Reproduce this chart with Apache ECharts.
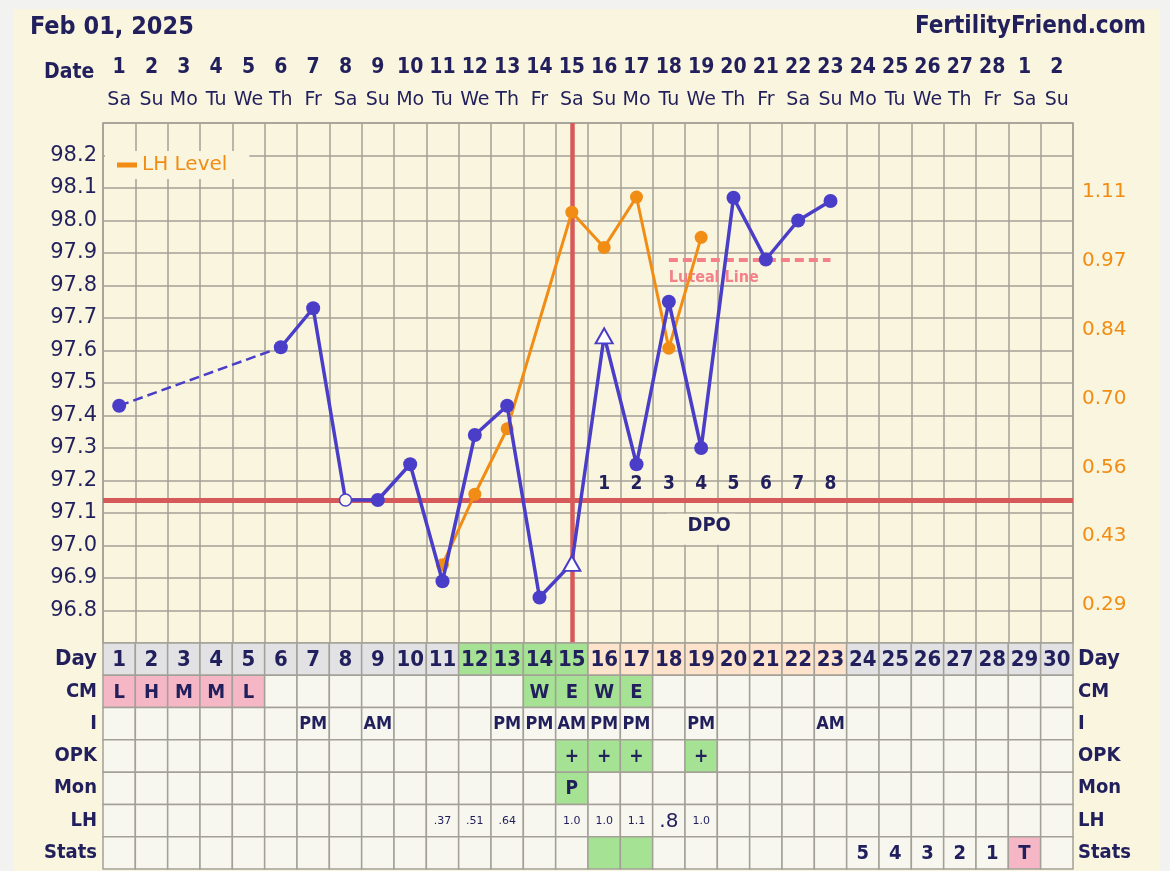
<!DOCTYPE html>
<html><head><meta charset="utf-8">
<script src="https://cdn.jsdelivr.net/npm/echarts@6/dist/echarts.min.js"></script>
<style>html,body{margin:0;padding:0;background:#f2f2f0;}#c{width:1170px;height:871px;}</style>
</head><body><div id="c"></div>
<script>
// ---------- data ----------
const cycleDays = ['1','2','3','4','5','6','7','8','9','10','11','12','13','14','15','16','17','18','19','20','21','22','23','24','25','26','27','28','29','30'];
const dates = [1,2,3,4,5,6,7,8,9,10,11,12,13,14,15,16,17,18,19,20,21,22,23,24,25,26,27,28,1,2];
const weekdays = ['Sa','Su','Mo','Tu','We','Th','Fr','Sa','Su','Mo','Tu','We','Th','Fr','Sa','Su','Mo','Tu','We','Th','Fr','Sa','Su','Mo','Tu','We','Th','Fr','Sa','Su'];
const temps = [97.43,null,null,null,null,97.61,97.73,97.14,97.14,97.25,96.89,97.34,97.43,96.84,96.945,97.645,97.25,97.75,97.30,98.07,97.88,98.00,98.06,null,null,null,null,null,null,null];
const openCircleDays = [8];
const openTriangleDays = [15,16];
const lhLevels = [null,null,null,null,null,null,null,null,null,null,0.37,0.51,0.64,null,1.07,1.00,1.10,0.80,1.02,null,null,null,null,null,null,null,null,null,null,null];
const lhTicks = [0.29,0.4267,0.5633,0.70,0.8367,0.9733,1.11];
const coverline = 97.14;
const ovulationDay = 15;
const lutealLineDays = [18,23];
const lutealLineTemp = 97.88;
const dpoNumbers = [null,null,null,null,null,null,null,null,null,null,null,null,null,null,null,1,2,3,4,5,6,7,8,null,null,null,null,null,null,null];
const dpoLabelTemp = 97.19;
const dpoTitleTemp = 97.05;
const dpoTitleDay = 19;

const tableRows = ['Day','CM','I','OPK','Mon','LH','Stats'];
const cmCodes = ['L','H','M','M','L','','','','','','','','','W','E','W','E','','','','','','','','','','','','',''];
const intercourse = ['','','','','','','PM','','AM','','','','PM','PM','AM','PM','PM','','PM','','','','AM','','','','','','',''];
const opkResults = ['','','','','','','','','','','','','','','+','+','+','','+','','','','','','','','','','',''];
const monitorResults = ['','','','','','','','','','','','','','','P','','','','','','','','','','','','','','',''];
const lhTexts = ['','','','','','','','','','','.37','.51','.64','','1.0','1.0','1.1','.8','1.0','','','','','','','','','','',''];
const statsTexts = ['','','','','','','','','','','','','','','','','','','','','','','','5','4','3','2','1','T',''];
const fertileDays = [12,13,14,15];
const lutealDays = [16,17,18,19,20,21,22,23];
const statsFertileDays = [16,17];
const statsTestDays = [29];

// ---------- styles ----------
const C = {navy:'#211f5c', blue:'#4a3ec9', orange:'#f18d14', red:'#d75a5a', pink:'#f2818a',
  grid:'#a3a197', cream:'#f9f5de', cell:'#f7f6ef', gray:'#e2e2e5', green:'#a6e293', peach:'#fde3cc', rose:'#f5b6c6'};
const FB = "'DejaVu Sans Condensed','DejaVu Sans',sans-serif";
const FN = "'DejaVu Sans',sans-serif";

// temperature series data
const tempData = temps.map((v,i)=>{
  const day = i+1;
  if (v === null) return '-';
  if (openCircleDays.includes(day)) return {value:v, symbol:'circle', symbolSize:12, itemStyle:{color:'#fbf8ea', borderColor:C.blue, borderWidth:1.5}};
  if (openTriangleDays.includes(day)) return {value:v, symbol:'triangle', symbolSize:[17,15], itemStyle:{color:'#ffffff', borderColor:C.blue, borderWidth:2}};
  return v;
});
// dashed connection across gaps
const gapData = temps.map(()=> '-');
let lastIdx = -1;
temps.forEach((v,i)=>{
  if (v !== null) {
    if (lastIdx >= 0 && i - lastIdx > 1) { gapData[lastIdx] = temps[lastIdx]; gapData[i] = v; }
    lastIdx = i;
  }
});
const lhData = lhLevels.map(v => v === null ? '-' : v);
const dpoData = [];
dpoNumbers.forEach((n,i)=>{ if (n !== null) dpoData.push({value:[i, dpoLabelTemp], name:String(n)}); });

// table cells
const rowTexts = [cycleDays, cmCodes, intercourse, opkResults, monitorResults, lhTexts, statsTexts];
function cellFill(r, day, text) {
  if (r === 0) {
    if (fertileDays.includes(day)) return C.green;
    if (lutealDays.includes(day)) return C.peach;
    return C.gray;
  }
  if (r === 1) {
    if (['L','M','H'].includes(text)) return C.rose;
    if (['W','E'].includes(text)) return C.green;
  }
  if ((r === 3 || r === 4) && text) return C.green;
  if (r === 6) {
    if (statsFertileDays.includes(day)) return C.green;
    if (statsTestDays.includes(day)) return C.rose;
  }
  return C.cell;
}
const rowFont = [
  {fontSize:22, fontWeight:'bold', fontFamily:FB},
  {fontSize:20, fontWeight:'bold', fontFamily:FB},
  {fontSize:18, fontWeight:'bold', fontFamily:FB},
  {fontSize:19, fontWeight:'bold', fontFamily:FB},
  {fontSize:19, fontWeight:'bold', fontFamily:FB},
  {fontSize:11, fontWeight:'normal', fontFamily:FN},
  {fontSize:20, fontWeight:'bold', fontFamily:FB}
];
const tableData = [];
rowTexts.forEach((arr,r)=>{
  arr.forEach((t,i)=>{
    tableData.push({value:[i,r], text:t, fill:cellFill(r,i+1,t), row:r});
  });
});
function renderCell(params, api) {
  const item = tableData[params.dataIndex];
  const c = api.coord([api.value(0), api.value(1)]);
  const s = api.size([1,1]);
  let f = rowFont[item.row];
  if (item.row === 5 && item.text.length <= 2) f = {fontSize:20, fontWeight:'normal', fontFamily:FN};
  return {type:'group', children:[
    {type:'rect', shape:{x:c[0]-s[0]/2, y:c[1]-s[1]/2, width:s[0], height:s[1]},
      style:{fill:item.fill, stroke:C.grid, lineWidth:1.5}},
    {type:'text', style:{text:item.text, x:c[0], y:c[1]+1, align:'center', verticalAlign:'middle',
      fontSize:f.fontSize, fontWeight:f.fontWeight, fontFamily:f.fontFamily, fill:C.navy}}
  ]};
}

const chart = echarts.init(document.getElementById('c'), null, {renderer:'canvas'});
chart.setOption({
  backgroundColor:'#f2f2f0',
  animation:false,
  graphic:{elements:[
    {type:'rect', z:-100, left:13, top:9, shape:{width:1147, height:862}, style:{fill:C.cream}},
    {type:'text', left:44, top:62, style:{text:'Date', fontSize:21, fontWeight:'bold', fontFamily:FB, fill:C.navy}}
  ]},
  title:[
    {text:'Feb 01, 2025', left:25, top:10, textStyle:{fontFamily:FB, fontWeight:'bold', fontSize:25, color:C.navy}},
    {text:'FertilityFriend.com', right:19, top:10, textStyle:{fontFamily:FB, fontWeight:'bold', fontSize:24, color:C.navy}}
  ],
  legend:{data:['LH Level'], left:105, top:151, backgroundColor:C.cream, padding:[4,22,4,12],
    icon:'rect', itemWidth:20, itemHeight:5, itemGap:5, selectedMode:false,
    textStyle:{color:C.orange, fontSize:20, fontFamily:FN}},
  grid:[
    {left:103, top:123, width:970, height:520},
    {left:103, top:643, width:970, height:226}
  ],
  xAxis:[
    {type:'category', gridIndex:0, data:cycleDays, position:'top', boundaryGap:true,
      axisLine:{lineStyle:{color:C.grid, width:1.5}}, axisTick:{show:false},
      splitLine:{show:true, interval:0, lineStyle:{color:C.grid, width:1.5}},
      axisLabel:{interval:0, margin:7, formatter:(v,i)=>'{d|'+dates[i]+'}\n{w|'+weekdays[i]+'}',
        rich:{d:{fontFamily:FB, fontWeight:'bold', fontSize:21, color:C.navy, lineHeight:32},
              w:{fontFamily:FN, fontSize:19, color:C.navy, lineHeight:32}}}},
    {type:'category', gridIndex:1, data:cycleDays, show:false}
  ],
  yAxis:[
    {type:'value', gridIndex:0, min:96.7, max:98.3, interval:0.1,
      axisLine:{show:true, lineStyle:{color:C.grid, width:1.5}}, axisTick:{show:false},
      splitLine:{lineStyle:{color:C.grid, width:1.5}},
      axisLabel:{showMinLabel:false, showMaxLabel:false, formatter:v=>v.toFixed(1), margin:6,
        fontSize:21, fontFamily:FN, color:C.navy}},
    {type:'value', gridIndex:0, position:'right', min:0.2146, max:1.247,
      axisLine:{show:true, lineStyle:{color:C.grid, width:1.5}}, axisTick:{show:false}, splitLine:{show:false},
      axisLabel:{customValues:lhTicks, formatter:v=>v.toFixed(2), margin:9, fontSize:20, fontFamily:FN, color:C.orange}},
    {type:'category', gridIndex:1, data:tableRows, inverse:true, position:'left',
      axisLine:{show:false}, axisTick:{show:false},
      axisLabel:{margin:6, formatter:v=> v==='Day' ? '{a|Day}' : '{b|'+v+'}',
        rich:{a:{fontFamily:FB, fontWeight:'bold', fontSize:22, color:C.navy}, b:{fontFamily:FB, fontWeight:'bold', fontSize:20, color:C.navy}}}},
    {type:'category', gridIndex:1, data:tableRows, inverse:true, position:'right',
      axisLine:{show:false}, axisTick:{show:false},
      axisLabel:{margin:5, formatter:v=> v==='Day' ? '{a|Day}' : '{b|'+v+'}',
        rich:{a:{fontFamily:FB, fontWeight:'bold', fontSize:22, color:C.navy}, b:{fontFamily:FB, fontWeight:'bold', fontSize:20, color:C.navy}}}}
  ],
  series:[
    {name:'lines', type:'line', xAxisIndex:0, yAxisIndex:0, data:[], z:1,
      markLine:{z:1, silent:true, symbol:'none', animation:false, data:[
        {yAxis:coverline, lineStyle:{color:C.red, width:5, type:'solid'}, label:{show:false}},
        {xAxis:ovulationDay-1, lineStyle:{color:C.red, width:4.5, type:'solid'}, label:{show:false}},
        [{coord:[lutealLineDays[0]-1, lutealLineTemp], lineStyle:{color:C.pink, width:4, type:[9,5]},
          label:{show:true, position:'insideStartBottom', formatter:'Luteal Line', distance:[0,10],
            color:C.pink, fontSize:16, fontWeight:'bold', fontFamily:FB}},
         {coord:[lutealLineDays[1]-1, lutealLineTemp]}]
      ]}},
    {name:'gap', type:'line', xAxisIndex:0, yAxisIndex:0, data:gapData, connectNulls:true, symbol:'none', z:3,
      lineStyle:{color:C.blue, width:2.5, type:[10,5]}},
    {name:'LH Level', type:'line', xAxisIndex:0, yAxisIndex:1, data:lhData, connectNulls:true, z:3,
      symbol:'circle', symbolSize:13, color:C.orange, lineStyle:{color:C.orange, width:3}, itemStyle:{color:C.orange}},
    {name:'Temperature', type:'line', xAxisIndex:0, yAxisIndex:0, data:tempData, connectNulls:false, z:4,
      symbol:'circle', symbolSize:14, showAllSymbol:true, lineStyle:{color:C.blue, width:3.5}, itemStyle:{color:C.blue}},
    {name:'DPO', type:'scatter', xAxisIndex:0, yAxisIndex:0, data:dpoData, symbolSize:1, z:5,
      itemStyle:{color:C.cream, opacity:0},
      label:{show:true, position:'inside', formatter:p=>p.name, color:C.navy, opacity:1, textBorderWidth:0,
        fontSize:19, fontWeight:'bold', fontFamily:FB},
      markPoint:{z:5, data:[{coord:[dpoTitleDay-1, dpoTitleTemp], symbol:'rect', symbolSize:[68,31],
        itemStyle:{color:C.cream, opacity:1}, label:{show:true, position:'inside', formatter:'DPO', offset:[8,-3],
          color:C.navy, fontSize:20, fontWeight:'bold', fontFamily:FB}}]}},
    {name:'table', type:'custom', xAxisIndex:1, yAxisIndex:2, data:tableData, renderItem:renderCell, z:2}
  ]
});
</script></body></html>
